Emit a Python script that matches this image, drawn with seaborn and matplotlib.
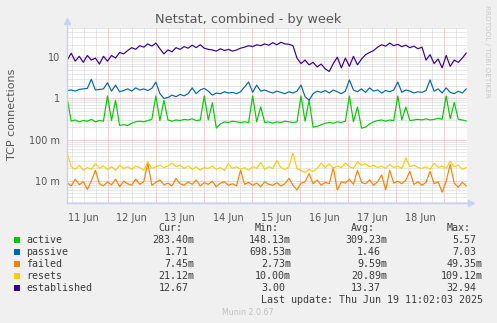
import numpy as np
import pandas as pd
import matplotlib
matplotlib.use("Agg")
import matplotlib.pyplot as plt
import matplotlib.dates as mdates
from matplotlib.patches import Rectangle
from matplotlib.ticker import FixedLocator, FuncFormatter, LogLocator, NullFormatter
import seaborn as sns

# ---- series (connections per second, 2-hourly samples over the week) ----
series_names = ["active", "passive", "failed", "resets", "established"]
series_colors = ["#00CC00", "#0066B3", "#FF8000", "#FFCC00", "#330099"]

active = [1.0, 0.28, 0.30, 0.27, 0.29, 0.28, 0.31, 0.27, 0.29, 0.28,
          1.15, 0.29, 0.9, 0.22, 0.23, 0.22, 0.25, 0.27, 0.28, 0.27,
          0.29, 0.31, 1.15, 0.29, 0.9, 0.30, 0.28, 0.30, 0.29, 0.31,
          0.30, 0.32, 0.29, 0.30, 1.15, 0.30, 0.78, 0.19, 0.24, 0.27,
          0.26, 0.28, 0.27, 0.26, 0.27, 0.26, 1.15, 0.27, 0.62, 0.26,
          0.27, 0.25, 0.27, 0.26, 0.28, 0.27, 0.26, 0.27, 1.15, 0.28,
          0.9, 0.20, 0.21, 0.23, 0.25, 0.26, 0.25, 0.27, 0.26, 0.28,
          1.15, 0.27, 0.62, 0.19, 0.20, 0.24, 0.27, 0.29, 0.30, 0.28,
          0.30, 0.29, 1.15, 0.30, 0.62, 0.29, 0.30, 0.31, 0.30, 0.32,
          0.30, 0.31, 0.33, 0.31, 1.15, 0.32, 0.8, 0.31, 0.30, 0.283]

passive = [1.55, 1.6, 1.5, 1.65, 1.7, 1.75, 2.9, 1.6, 1.65, 1.7,
           2.4, 1.5, 2.1, 1.45, 1.55, 1.7, 1.5, 1.8, 1.6, 1.7,
           1.55, 1.75, 2.5, 1.3, 1.0, 1.05, 1.2, 1.1, 1.25, 1.15,
           1.3, 1.8, 1.3, 1.6, 1.75, 1.5, 1.2, 1.35, 1.3, 1.45,
           1.35, 1.4, 1.3, 1.45, 1.9, 2.5, 1.4, 2.1, 1.5, 1.6,
           1.45, 1.35, 1.5, 1.4, 1.3, 1.45, 1.35, 1.5, 2.1, 1.1,
           0.9, 1.3, 1.5, 1.4, 1.55, 1.35, 1.6, 1.45, 1.3, 1.5,
           2.8, 1.6, 1.45, 1.7, 1.4, 1.8, 1.5, 1.6, 1.35, 1.55,
           1.45, 1.6, 2.5, 1.4, 1.6, 1.5, 1.35, 1.45, 1.4, 1.55,
           2.8, 1.5, 1.7, 1.35, 1.8, 1.4, 1.3, 1.5, 1.35, 1.71]

failed = [0.009, 0.0075, 0.011, 0.008, 0.0095, 0.0062, 0.010, 0.018, 0.0085, 0.0075,
          0.0095, 0.008, 0.011, 0.0072, 0.0098, 0.0085, 0.0078, 0.011, 0.0082, 0.0095,
          0.027, 0.0078, 0.0092, 0.0105, 0.008, 0.0088, 0.0075, 0.0115, 0.0085, 0.0078,
          0.0095, 0.0082, 0.0105, 0.0075, 0.009, 0.0082, 0.0098, 0.0072, 0.0088, 0.0095,
          0.0078, 0.0085, 0.0075, 0.018, 0.0082, 0.0092, 0.0078, 0.0088, 0.0072, 0.0095,
          0.0082, 0.0078, 0.009, 0.0075, 0.0085, 0.0115, 0.0078, 0.006, 0.0088, 0.0095,
          0.015, 0.0085, 0.0105, 0.0078, 0.0092, 0.0085, 0.021, 0.006, 0.0095, 0.0088,
          0.011, 0.0082, 0.018, 0.0092, 0.0085, 0.0105, 0.0078, 0.0095, 0.014, 0.006,
          0.018, 0.0088, 0.0098, 0.0085, 0.0105, 0.017, 0.0082, 0.0095, 0.0078, 0.0092,
          0.017, 0.0085, 0.0095, 0.0053, 0.0098, 0.025, 0.0088, 0.007, 0.0092, 0.00745]

resets = [0.047, 0.022, 0.019, 0.024, 0.018, 0.021, 0.019, 0.026, 0.020, 0.023,
          0.019, 0.022, 0.018, 0.024, 0.020, 0.022, 0.019, 0.023, 0.021, 0.018,
          0.029, 0.020, 0.022, 0.024, 0.021, 0.023, 0.027, 0.022, 0.024, 0.020,
          0.023, 0.019, 0.022, 0.018, 0.021, 0.020, 0.023, 0.019, 0.021, 0.018,
          0.026, 0.020, 0.022, 0.019, 0.021, 0.018, 0.022, 0.020, 0.028, 0.019,
          0.022, 0.020, 0.031, 0.021, 0.019, 0.022, 0.047, 0.020, 0.018, 0.016,
          0.019, 0.017, 0.020, 0.027, 0.021, 0.026, 0.020, 0.023, 0.021, 0.027,
          0.022, 0.020, 0.029, 0.024, 0.026, 0.022, 0.024, 0.021, 0.023, 0.020,
          0.025, 0.021, 0.023, 0.020, 0.036, 0.022, 0.024, 0.021, 0.020, 0.022,
          0.019, 0.027, 0.021, 0.023, 0.020, 0.030, 0.022, 0.024, 0.019, 0.0211]

established = [8.5, 12.5, 8.0, 10.5, 7.5, 11.0, 8.5, 9.5, 6.8, 10.5,
               8.0, 11.0, 9.5, 13.0, 12.0, 14.5, 17.0, 15.5, 19.0, 17.5,
               21.0, 18.5, 22.0, 16.0, 12.0, 15.0, 13.5, 17.0, 15.5, 18.0,
               16.5, 19.5, 17.0, 20.0, 16.5, 15.5, 15.0, 14.0, 16.0, 14.5,
               15.5, 14.0, 15.0, 16.5, 17.5, 19.0, 18.0, 20.0, 19.0, 21.0,
               19.5, 22.5, 20.0, 23.0, 21.0, 20.5, 19.0, 9.5, 7.0, 8.5,
               6.5, 7.5, 5.8, 6.8, 5.2, 4.5, 7.0, 10.0, 5.5, 9.5,
               6.0, 10.5, 6.5, 9.0, 11.5, 13.0, 14.5, 17.5, 20.0, 18.5,
               22.0, 19.0, 20.5, 18.0, 19.5, 17.0, 18.5, 16.0, 17.5, 8.5,
               11.5, 7.0, 9.0, 5.5, 11.0, 6.0, 8.5, 7.5, 9.5, 12.67]

# legend statistics
cur_vals = ["283.40m", "1.71", "7.45m", "21.12m", "12.67"]
min_vals = ["148.13m", "698.53m", "2.73m", "10.00m", "3.00"]
avg_vals = ["309.23m", "1.46", "9.59m", "20.89m", "13.37"]
max_vals = ["5.57", "7.03", "49.35m", "109.12m", "32.94"]

y_tick_values = [0.01, 0.1, 1, 10]
y_tick_labels = ["10 m", "100 m", "1", "10"]

times = pd.date_range("2025-06-11 03:45", "2025-06-19 11:00", periods=len(active))

df = pd.DataFrame({
    "time": np.tile(times, len(series_names)),
    "series": np.repeat(series_names, len(times)),
    "value": np.concatenate([active, passive, failed, resets, established]),
})

# ---- figure ----
W, H = 497, 323
sns.set_style("white")
plt.rcParams["font.family"] = ["DejaVu Sans"]

fig = plt.figure(figsize=(W / 100, H / 100), dpi=100, facecolor="#F0F0F0")
ax = fig.add_axes([67 / W, (H - 203) / H, 400 / W, 175 / H])
ax.set_facecolor("white")

sns.lineplot(data=df, x="time", y="value", hue="series", hue_order=series_names,
             palette=dict(zip(series_names, series_colors)), linewidth=0.85,
             estimator=None, sort=False, legend=False, ax=ax)

ax.set_yscale("log")
ax.set_ylim(2.9e-3, 51)
ax.set_xlim(pd.Timestamp("2025-06-11 03:40"), pd.Timestamp("2025-06-19 11:20"))
ax.set_xlabel("")
ax.set_ylabel("")

# y axis: decade grid in red, sub-decade grid in gray
ax.yaxis.set_major_locator(FixedLocator(y_tick_values))
ax.yaxis.set_major_formatter(FuncFormatter(
    lambda v, _: dict(zip(y_tick_values, y_tick_labels)).get(v, "")))
ax.yaxis.set_minor_locator(LogLocator(base=10, subs=range(2, 10), numticks=20))
ax.yaxis.set_minor_formatter(NullFormatter())

# x axis: midnight grid in red, 6-hour grid in gray, day labels at noon
ax.xaxis.set_major_locator(mdates.DayLocator())
ax.xaxis.set_major_formatter(NullFormatter())
ax.xaxis.set_minor_locator(mdates.HourLocator(byhour=[6, 12, 18]))


def day_label(v, _):
    d = mdates.num2date(v)
    return d.strftime("%d %b").lstrip("0") if d.hour == 12 else ""


ax.xaxis.set_minor_formatter(FuncFormatter(day_label))

dots = (0, (1, 1))
ax.set_axisbelow(True)
ax.grid(which="major", axis="both", color="#EBA4A4", linestyle=dots, linewidth=0.72)
ax.grid(which="minor", axis="both", color="#D2D2D2", linestyle=dots, linewidth=0.72)

ax.tick_params(axis="both", which="major", length=2, width=0.7, color="#E09090",
               labelsize=7, labelcolor="#555555", pad=3)
ax.tick_params(axis="both", which="minor", length=2, width=0.7, color="#BBBBBB",
               labelsize=7, labelcolor="#555555", pad=3)
ax.tick_params(axis="x", which="minor", pad=5)

for s in ["top", "right"]:
    ax.spines[s].set_visible(False)
axis_col = "#C8D0F4"
for s in ["left", "bottom"]:
    ax.spines[s].set_color(axis_col)
    ax.spines[s].set_linewidth(1.0)

# axis arrows
ax.plot([0, 0], [1, 1.03], color=axis_col, lw=1.0, transform=ax.transAxes, clip_on=False)
ax.plot([0], [1.04], marker="^", ms=5, color=axis_col, transform=ax.transAxes, clip_on=False)
ax.plot([1, 1.005], [0, 0], color=axis_col, lw=1.0, transform=ax.transAxes, clip_on=False)
ax.plot([1.01], [0], marker=">", ms=5, color=axis_col, transform=ax.transAxes, clip_on=False)

# ---- texts ----
def fx(px):
    return px / W


def fy(py):
    return 1 - py / H


fig.text(fx(248.5), fy(19), "Netstat, combined - by week", ha="center", va="center",
         fontsize=9.3, color="#555555")
fig.text(fx(12), fy(114), "TCP connections", rotation=90, ha="center", va="center",
         fontsize=8, color="#555555")
fig.text(fx(487), fy(5), "RRDTOOL / TOBI OETIKER", rotation=270, ha="center", va="top",
         fontsize=5.2, color="#C8C8C8")

mono = dict(family="DejaVu Sans Mono", fontsize=7.2, color="#3A3A3A", va="center")
col_right = [194.3, 291, 387, 482.7]
char_w = 6.0

for label, right in zip(["Cur:", "Min:", "Avg:", "Max:"], col_right):
    fig.text(fx(right - 2 * char_w), fy(228.3), label, ha="right", **mono)

row_y = [239.7, 251.7, 263.7, 275.7, 287.7]
for i, name in enumerate(series_names):
    y = row_y[i]
    fig.add_artist(Rectangle((fx(13.7), fy(y + 3)), 6 / W, 6 / H,
                             transform=fig.transFigure, color=series_colors[i], lw=0))
    fig.text(fx(26), fy(y), name, ha="left", **mono)
    for vals, right in zip([cur_vals, min_vals, avg_vals, max_vals], col_right):
        v = vals[i]
        r = right if v.endswith("m") else right - char_w
        fig.text(fx(r), fy(y), v, ha="right", **mono)

fig.text(fx(482.7), fy(299.7), "Last update: Thu Jun 19 11:02:03 2025", ha="right", **mono)
fig.text(fx(248), fy(312.3), "Munin 2.0.67", ha="center", va="center",
         fontsize=5.7, color="#C0C0C0")

fig.savefig("out.png", dpi=100, facecolor=fig.get_facecolor())
